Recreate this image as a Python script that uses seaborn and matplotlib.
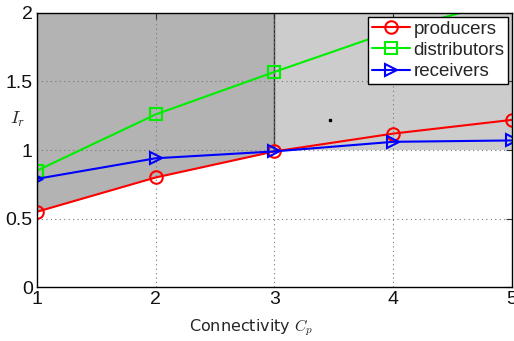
import matplotlib
matplotlib.use("Agg")
import matplotlib.pyplot as plt
import seaborn as sns
import numpy as np

# Connectivity levels and the I_r index for each node role
connectivity = [1, 2, 3, 4, 5]
producers = [0.55, 0.80, 0.99, 1.12, 1.22]
distributors = [0.85, 1.26, 1.57, 1.87, 2.10]
receivers = [0.79, 0.94, 0.99, 1.06, 1.07]

series = [
    ("producers", producers, "#ff0000", "o"),
    ("distributors", distributors, "#00ee00", "s"),
    ("receivers", receivers, "#0000ff", ">"),
]

sns.set_theme(style="white")
plt.rcParams["font.family"] = ["Liberation Sans", "DejaVu Sans"]
plt.rcParams["mathtext.fontset"] = "cm"

fig = plt.figure(figsize=(5.14, 3.41), dpi=100)
ax = fig.add_axes([0.072, 0.158, 0.924, 0.804])

x = np.array(connectivity, dtype=float)
prod = np.array(producers)

# Shaded regimes: below C_p = 3 above the producer curve, beyond 3 above I_r = 1
left = x <= 3
ax.fill_between(x[left], prod[left], 2.0, color="#b3b3b3", lw=0, zorder=0.2)
right = x >= 3
ax.fill_between(x[right], 1.0, 2.0, color="#cccccc", lw=0, zorder=0.2)
ax.plot([3, 3], [prod[2], 2.0], color="#333333", lw=1.0, zorder=0.3)
ax.plot([3.47], [1.22], marker="s", ms=1.5, color="black", lw=0, zorder=0.3)

for name, vals, color, mk in series:
    sns.lineplot(x=connectivity, y=vals, ax=ax, color=color, lw=1.5,
                 marker=mk, markersize=9, markerfacecolor="none",
                 markeredgecolor=color, markeredgewidth=1.5, label=name,
                 zorder=3)

ax.set_xlim(1, 5)
ax.set_ylim(0, 2)
ax.set_xticks([1, 2, 3, 4, 5])
ax.set_yticks([0, 0.5, 1, 1.5, 2])
ax.set_yticklabels(["0", "0.5", "1", "1.5", "2"])
ax.grid(True, ls=(0, (1, 3)), color="#777777", lw=0.8, zorder=1.5)
ax.set_axisbelow(False)
ax.tick_params(direction="in", length=4, width=0.8, color="#333333",
               top=True, right=True, labelsize=14, pad=3,
               labelcolor="#111111")
for s in ax.spines.values():
    s.set_color("black")
    s.set_linewidth(1.0)
    s.set_zorder(4)

ax.set_xlabel(r"Connectivity $C_p$", fontsize=11.5,
              family=["DejaVu Sans"])
ax.xaxis.set_label_coords(0.45, -0.11)
ax.set_ylabel(r"$I_r$", fontsize=13, rotation=0, va="center", ha="center")
ax.yaxis.set_label_coords(-0.04, 0.61)

leg = ax.legend(loc="upper right", fontsize=13.5, frameon=True, fancybox=False,
                edgecolor="black", framealpha=1, borderpad=0.2,
                handlelength=2.0, handletextpad=0.2, labelspacing=0.22,
                borderaxespad=0.2)
leg.get_frame().set_linewidth(1.0)
leg.set_zorder(5)

fig.savefig("out.png", dpi=100)
